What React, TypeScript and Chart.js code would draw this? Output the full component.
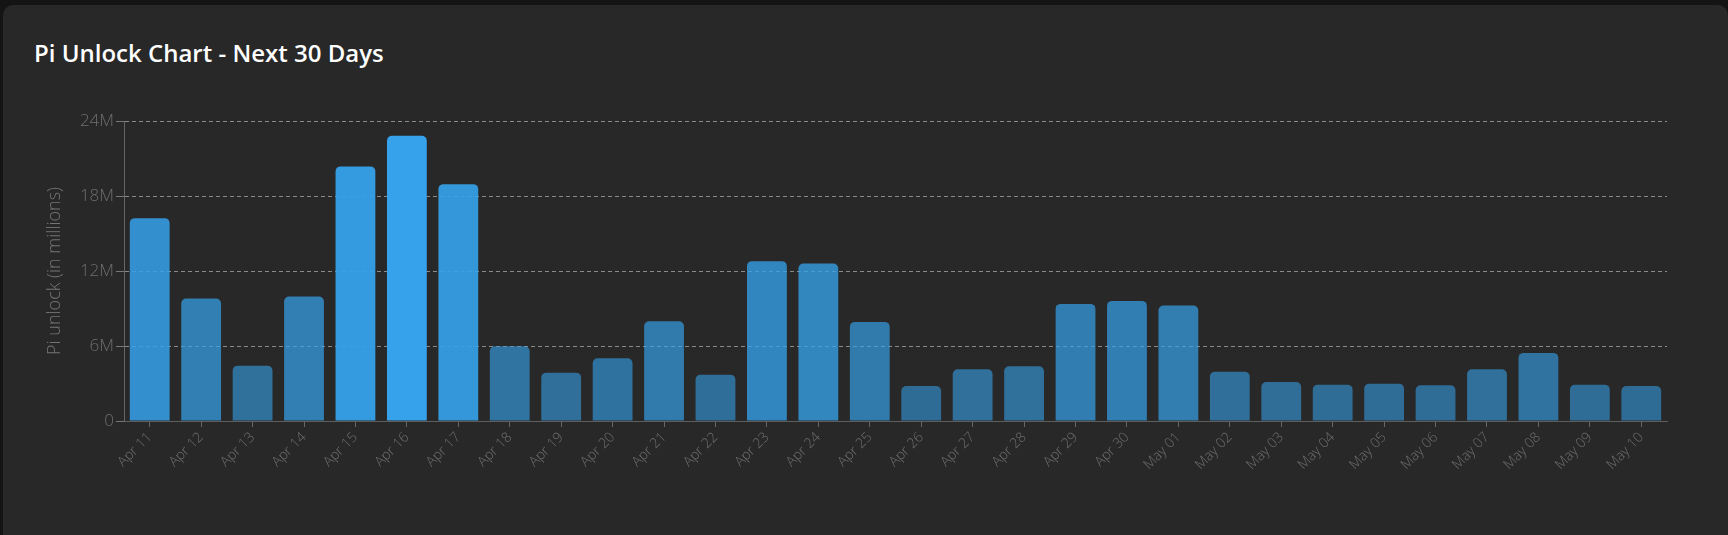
import React, { useEffect, useRef } from 'react';
import { Chart, registerables } from 'chart.js';

Chart.register(...registerables);

const labels = [
  'Apr 11', 'Apr 12', 'Apr 13', 'Apr 14', 'Apr 15', 'Apr 16', 'Apr 17', 'Apr 18', 'Apr 19', 'Apr 20',
  'Apr 21', 'Apr 22', 'Apr 23', 'Apr 24', 'Apr 25', 'Apr 26', 'Apr 27', 'Apr 28', 'Apr 29', 'Apr 30',
  'May 01', 'May 02', 'May 03', 'May 04', 'May 05', 'May 06', 'May 07', 'May 08', 'May 09', 'May 10',
];

// Pi unlocked per day, in millions
const unlockMillions = [
  16.23, 9.80, 4.43, 9.96, 20.37, 22.82, 18.95, 5.98, 3.87, 5.02,
  7.98, 3.71, 12.79, 12.60, 7.93, 2.80, 4.14, 4.38, 9.37, 9.61,
  9.24, 3.95, 3.12, 2.91, 2.99, 2.86, 4.14, 5.45, 2.91, 2.80,
];

const yTickValues = [0, 6, 12, 18, 24];
const yTickLabels = ['0', '6M', '12M', '18M', '24M'];

const chartTitle = 'Pi Unlock Chart - Next 30 Days';
const yAxisTitle = 'Pi unlock (in millions)';

export default function App() {
  const canvasRef = useRef<HTMLCanvasElement | null>(null);

  useEffect(() => {
    document.body.style.margin = '0';
    document.body.style.background = '#141414';
    const canvas = canvasRef.current;
    if (!canvas) return;
    const maxVal = Math.max(...unlockMillions);
    const colors = unlockMillions.map(
      (v) => `rgba(54, 162, 235, ${(0.5 + 0.5 * (v / maxVal)).toFixed(3)})`
    );
    const chart = new Chart(canvas, {
      type: 'bar',
      data: {
        labels,
        datasets: [
          {
            label: 'Pi unlock',
            data: unlockMillions,
            backgroundColor: colors,
            borderWidth: 0,
            borderRadius: 5,
            barPercentage: 0.86,
            categoryPercentage: 0.9,
          },
        ],
      },
      options: {
        animation: false,
        responsive: true,
        maintainAspectRatio: false,
        layout: { padding: { left: 40, right: 61, top: 121, bottom: 54 } },
        plugins: {
          legend: { display: false },
          tooltip: { enabled: false },
        },
        scales: {
          x: {
            grid: {
              display: true,
              drawOnChartArea: false,
              drawTicks: true,
              tickLength: 6,
              color: '#666666',
              tickColor: '#666666',
              offset: false,
            },
            border: { display: true, color: '#5e5e5e', width: 1 },
            ticks: {
              color: '#6e6e6e',
              font: { family: '"Open Sans", sans-serif', size: 14, weight: 300 },
              minRotation: 45,
              maxRotation: 45,
              autoSkip: false,
              padding: 2,
            },
            afterFit: (scale: any) => {
              scale.height = 60;
            },
          },
          y: {
            min: 0,
            max: 24,
            afterBuildTicks: (scale: any) => {
              scale.ticks = yTickValues.map((v) => ({ value: v }));
            },
            grid: {
              color: '#8a8a8a',
              lineWidth: 1,
              drawTicks: true,
              tickLength: 8,
              tickColor: '#777777',
            },
            border: { display: true, color: '#666666', width: 1, dash: [4, 3] },
            ticks: {
              color: '#6e6e6e',
              font: { family: '"Open Sans", sans-serif', size: 17, weight: 300 },
              padding: 2,
              callback: (value: any) => {
                const i = yTickValues.indexOf(Number(value));
                return i >= 0 ? yTickLabels[i] : '';
              },
            },
            title: {
              display: true,
              text: yAxisTitle,
              color: '#747474',
              font: { family: '"Open Sans", sans-serif', size: 18, weight: 300 },
              padding: { top: 4, bottom: 4 },
            },
            afterFit: (scale: any) => {
              scale.width = 84;
            },
          },
        },
      },
    });
    return () => chart.destroy();
  }, []);

  return (
    <div
      style={{
        position: 'fixed',
        left: 0,
        top: 0,
        width: 1728,
        height: 535,
        background: '#141414',
        overflow: 'hidden',
      }}
    >
      <div
        style={{
          position: 'absolute',
          left: 3,
          top: 5,
          width: 1725,
          height: 560,
          background: '#282828',
          borderRadius: 10,
        }}
      />
      <div
        style={{
          position: 'absolute',
          left: 34,
          top: 41,
          fontFamily: '"Open Sans", sans-serif',
          fontWeight: 600,
          fontSize: 24,
          lineHeight: '24px',
          color: '#ffffff',
          whiteSpace: 'nowrap',
        }}
      >
        {chartTitle}
      </div>
      <div style={{ position: 'absolute', left: 0, top: 0, width: 1728, height: 535 }}>
        <canvas ref={canvasRef} />
      </div>
    </div>
  );
}
